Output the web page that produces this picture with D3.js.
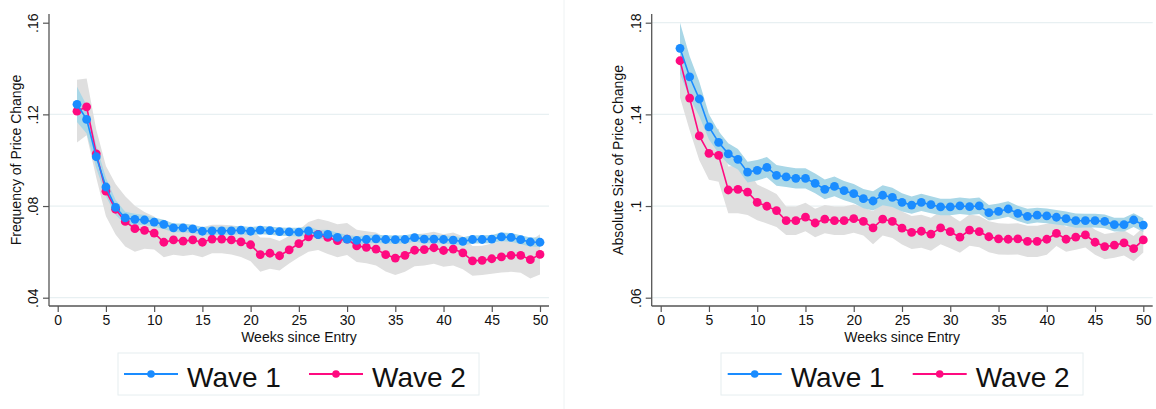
<!DOCTYPE html>
<html>
<head>
<meta charset="utf-8">
<script src="https://cdn.jsdelivr.net/npm/d3@7"></script>
<style>
  body { margin: 0; background: #fff; }
  svg { display: block; }
  text { font-family: "Liberation Sans", Arial, Helvetica, sans-serif; fill: #111; }
</style>
</head>
<body>
<svg id="chart" width="1156" height="409"></svg>
<script>
// Weeks since entry (x categories)
const weeks = [2,3,4,5,6,7,8,9,10,11,12,13,14,15,16,17,18,19,20,21,22,23,24,25,26,
               27,28,29,30,31,32,33,34,35,36,37,38,39,40,41,42,43,44,45,46,47,48,49,50];

// Frequency of price change: means and 95% CI half-widths
const freqWave1 = [0.1244,0.1178,0.1015,0.0883,0.0794,0.0748,0.0742,0.0739,0.0730,0.0720,
  0.0705,0.0705,0.0700,0.0690,0.0692,0.0692,0.0692,0.0695,0.0690,0.0695,0.0693,0.0688,
  0.0687,0.0686,0.0691,0.0675,0.0676,0.0663,0.0656,0.0650,0.0654,0.0657,0.0654,0.0653,
  0.0654,0.0662,0.0656,0.0656,0.0654,0.0651,0.0646,0.0654,0.0654,0.0656,0.0665,0.0663,
  0.0653,0.0643,0.0642];
const freqWave1CI = [0.0077,0.0062,0.0050,0.0040,0.0032,0.0027,0.0024,0.0022,0.0020,0.0020,
  0.0019,0.0019,0.0018,0.0018,0.0018,0.0018,0.0018,0.0018,0.0018,0.0018,0.0018,0.0018,
  0.0018,0.0019,0.0020,0.0020,0.0020,0.0020,0.0019,0.0018,0.0018,0.0018,0.0018,0.0018,
  0.0018,0.0018,0.0018,0.0018,0.0018,0.0018,0.0018,0.0018,0.0018,0.0018,0.0019,0.0019,
  0.0020,0.0020,0.0021];
const freqWave2 = [0.1214,0.1233,0.1028,0.0865,0.0786,0.0733,0.0701,0.0694,0.0682,0.0642,
  0.0652,0.0647,0.0652,0.0642,0.0656,0.0656,0.0652,0.0644,0.0631,0.0588,0.0594,0.0583,
  0.0609,0.0636,0.0665,0.0676,0.0663,0.0649,0.0656,0.0626,0.0620,0.0612,0.0588,0.0573,
  0.0585,0.0607,0.0610,0.0618,0.0606,0.0612,0.0596,0.0561,0.0563,0.0570,0.0578,0.0585,
  0.0585,0.0566,0.0589];
const freqWave2CI = [0.0137,0.0124,0.0105,0.0110,0.0110,0.0110,0.0100,0.0080,0.0072,0.0065,
  0.0065,0.0065,0.0065,0.0065,0.0062,0.0062,0.0064,0.0066,0.0072,0.0075,0.0068,0.0064,
  0.0060,0.0060,0.0065,0.0068,0.0072,0.0072,0.0070,0.0070,0.0070,0.0072,0.0074,0.0074,
  0.0072,0.0070,0.0070,0.0070,0.0071,0.0072,0.0072,0.0065,0.0064,0.0066,0.0068,0.0072,
  0.0076,0.0082,0.0088];

// Absolute size of price change: means and 95% CI half-widths
const sizeWave1 = [0.1688,0.1564,0.1467,0.1345,0.1278,0.1228,0.1204,0.1148,0.1156,0.1169,
  0.1134,0.1127,0.1121,0.1121,0.1099,0.1073,0.1086,0.1067,0.1054,0.1032,0.1022,0.1047,
  0.1038,0.1016,0.1004,0.1016,0.1006,0.0996,0.0996,0.1001,0.0997,0.1001,0.0971,0.0977,
  0.0987,0.0968,0.0955,0.0960,0.0957,0.0951,0.0945,0.0936,0.0936,0.0936,0.0933,0.0919,
  0.0919,0.0939,0.0917];
const sizeWave1CI = [0.0112,0.0090,0.0075,0.0055,0.0048,0.0046,0.0045,0.0045,0.0045,0.0045,
  0.0045,0.0044,0.0044,0.0044,0.0043,0.0043,0.0043,0.0042,0.0042,0.0042,0.0042,0.0044,
  0.0042,0.0040,0.0038,0.0038,0.0037,0.0036,0.0036,0.0036,0.0036,0.0036,0.0034,0.0034,
  0.0034,0.0033,0.0033,0.0032,0.0032,0.0032,0.0031,0.0031,0.0030,0.0030,0.0030,0.0030,
  0.0030,0.0030,0.0030];
const sizeWave2 = [0.1634,0.1471,0.1306,0.1230,0.1221,0.1070,0.1073,0.1061,0.1016,0.0999,
  0.0980,0.0936,0.0936,0.0952,0.0926,0.0943,0.0936,0.0936,0.0945,0.0933,0.0905,0.0943,
  0.0933,0.0904,0.0885,0.0890,0.0877,0.0905,0.0888,0.0864,0.0895,0.0888,0.0866,0.0857,
  0.0855,0.0857,0.0846,0.0846,0.0855,0.0881,0.0855,0.0864,0.0874,0.0842,0.0823,0.0829,
  0.0839,0.0814,0.0852];
const sizeWave2CI = [0.0160,0.0140,0.0106,0.0115,0.0115,0.0102,0.0104,0.0100,0.0078,0.0075,
  0.0072,0.0062,0.0062,0.0062,0.0062,0.0062,0.0062,0.0062,0.0062,0.0062,0.0072,0.0072,
  0.0072,0.0072,0.0072,0.0072,0.0072,0.0072,0.0072,0.0068,0.0068,0.0068,0.0068,0.0068,
  0.0068,0.0068,0.0068,0.0068,0.0068,0.0055,0.0055,0.0055,0.0055,0.0055,0.0055,0.0055,
  0.0055,0.0055,0.0055];

// Axis ticks
const xTicks = [0,5,10,15,20,25,30,35,40,45,50];
const freqTicks = [0.04,0.08,0.12,0.16];
const sizeTicks = [0.06,0.10,0.14,0.18];
const seriesNames = ["Wave 1", "Wave 2"];

const COLORS = { w1: "#1a8cff", w2: "#ff0a80", band1: "#a9d7e7", band2: "#dfdfdf",
                 grid: "#e8f0f2", axis: "#555" };

const panels = [
  { title: "Frequency of Price Change", w1: freqWave1, w1ci: freqWave1CI, w2: freqWave2, w2ci: freqWave2CI,
    yTicks: freqTicks, gridTicks: [0.04,0.08,0.12],
    frame: { x0: 49, x1: 549, y0: 14, y1: 306 }, xRange: [57.7, 540], titleX: 20.5,
    legend: { x0: 118, x1: 479, item1: 124, item2: 309 } },
  { title: "Absolute Size of Price Change", w1: sizeWave1, w1ci: sizeWave1CI, w2: sizeWave2, w2ci: sizeWave2CI,
    yTicks: sizeTicks, gridTicks: sizeTicks,
    frame: { x0: 651.7, x1: 1152.7, y0: 14, y1: 306 }, xRange: [660.7, 1143.3], titleX: 623,
    legend: { x0: 721, x1: 1083, item1: 727.7, item2: 912.7 } }
];

const svg = d3.select("#chart");
const fmt = d => String(d).replace(/^0(?=\.)/, "");

// faint divider between the two graphs
svg.append("line").attr("x1", 564).attr("x2", 564).attr("y1", 0).attr("y2", 409)
  .attr("stroke", "#eef2f3").attr("stroke-width", 1);

panels.forEach(p => {
  const f = p.frame;
  const x = d3.scaleLinear().domain([0, 50]).range(p.xRange);
  const y = d3.scaleLinear().domain([p.yTicks[0], p.yTicks[p.yTicks.length - 1]]).range([297.7, 22.7]);
  const g = svg.append("g");

  // gridlines
  g.selectAll(".grid").data(p.gridTicks).join("line")
    .attr("x1", f.x0).attr("x2", f.x1)
    .attr("y1", d => y(d)).attr("y2", d => y(d))
    .attr("stroke", COLORS.grid).attr("stroke-width", 1.2);

  const rows = (m, ci) => weeks.map((w, i) => ({ w, m: m[i], lo: m[i] - ci[i], hi: m[i] + ci[i] }));
  const d1 = rows(p.w1, p.w1ci), d2 = rows(p.w2, p.w2ci);

  const band = d3.area().x(d => x(d.w)).y0(d => y(d.lo)).y1(d => y(d.hi));
  g.append("path").datum(d2).attr("d", band).attr("fill", COLORS.band2);
  g.append("path").datum(d1).attr("d", band).attr("fill", COLORS.band1);

  const line = d3.line().x(d => x(d.w)).y(d => y(d.m));
  [[d2, COLORS.w2], [d1, COLORS.w1]].forEach(([data, col]) => {
    g.append("path").datum(data).attr("d", line)
      .attr("fill", "none").attr("stroke", col).attr("stroke-width", 1.6);
    g.selectAll(null).data(data).join("circle")
      .attr("cx", d => x(d.w)).attr("cy", d => y(d.m)).attr("r", 4.4).attr("fill", col);
  });

  // y axis
  const ya = g.append("g").attr("transform", `translate(${f.x0},0)`)
    .call(d3.axisLeft(y).tickValues(p.yTicks).tickFormat(fmt).tickSize(6).tickSizeOuter(0));
  ya.select(".domain").remove();
  ya.selectAll(".tick line").attr("stroke", COLORS.axis).attr("stroke-width", 1.2);
  ya.selectAll(".tick text")
    .attr("transform", "rotate(-90)").attr("x", 0).attr("y", -11).attr("dy", null)
    .attr("text-anchor", "middle").style("font-size", "14px").attr("fill", "#111");
  g.append("line").attr("x1", f.x0).attr("x2", f.x0).attr("y1", f.y0).attr("y2", f.y1)
    .attr("stroke", COLORS.axis).attr("stroke-width", 1.3);

  // x axis
  const xa = g.append("g").attr("transform", `translate(0,${f.y1})`)
    .call(d3.axisBottom(x).tickValues(xTicks).tickSize(6).tickSizeOuter(0));
  xa.select(".domain").remove();
  xa.selectAll(".tick line").attr("stroke", COLORS.axis).attr("stroke-width", 1.2);
  xa.selectAll(".tick text").attr("y", 9).attr("dy", "0.71em")
    .style("font-size", "14px").attr("fill", "#111");
  g.append("line").attr("x1", f.x0).attr("x2", f.x1).attr("y1", f.y1).attr("y2", f.y1)
    .attr("stroke", COLORS.axis).attr("stroke-width", 1.3);

  // axis titles
  g.append("text").attr("transform", `translate(${p.titleX},160) rotate(-90)`)
    .attr("text-anchor", "middle").style("font-size", "14px").text(p.title);
  g.append("text").attr("x", (f.x0 + f.x1) / 2).attr("y", 341.5)
    .attr("text-anchor", "middle").style("font-size", "14px").text("Weeks since Entry");

  // legend
  const L = p.legend;
  g.append("rect").attr("x", L.x0).attr("y", 353).attr("width", L.x1 - L.x0).attr("height", 42)
    .attr("fill", "none").attr("stroke", "#e6eef0").attr("stroke-width", 1);
  [[L.item1, COLORS.w1, seriesNames[0]], [L.item2, COLORS.w2, seriesNames[1]]].forEach(([lx, col, name]) => {
    g.append("line").attr("x1", lx).attr("x2", lx + 54).attr("y1", 374).attr("y2", 374)
      .attr("stroke", col).attr("stroke-width", 2);
    g.append("circle").attr("cx", lx + 27).attr("cy", 374).attr("r", 3.8).attr("fill", col);
    g.append("text").attr("x", lx + 63).attr("y", 386.5).style("font-size", "28px").text(name);
  });
});
</script>
</body>
</html>
